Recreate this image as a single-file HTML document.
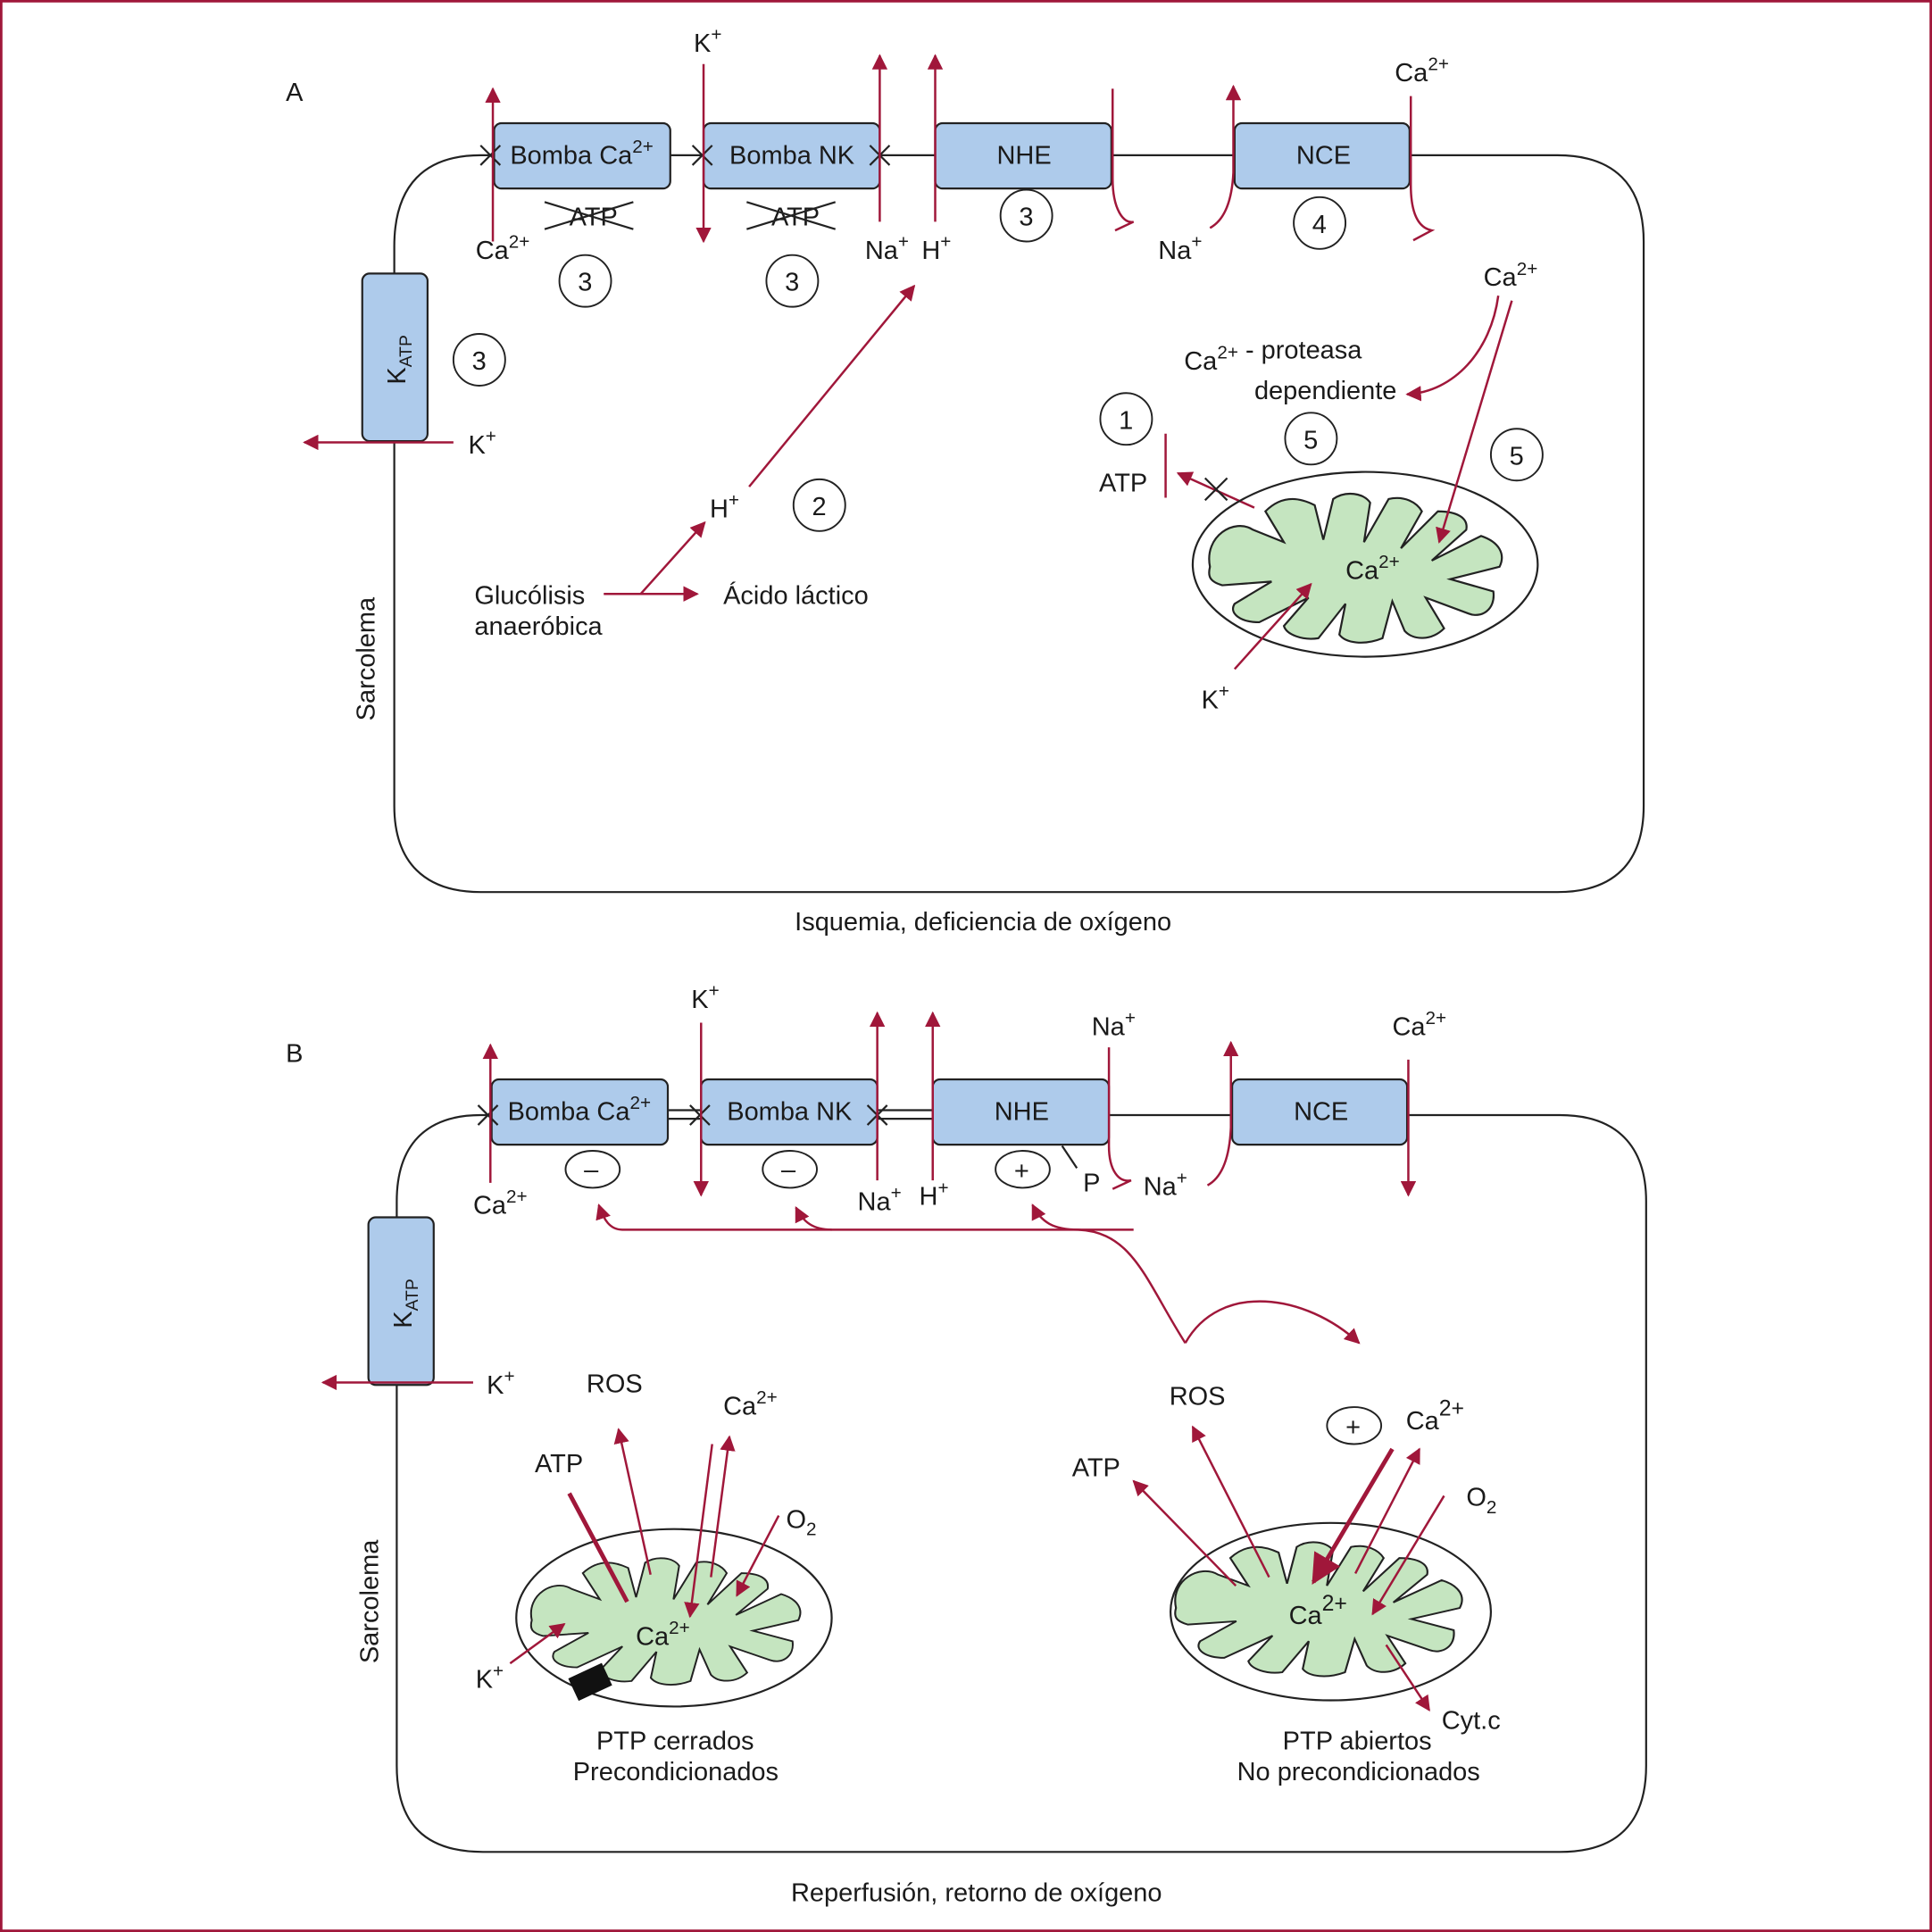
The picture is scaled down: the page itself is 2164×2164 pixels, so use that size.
<!DOCTYPE html>
<html><head><meta charset="utf-8"><style>
html,body{margin:0;padding:0;background:#fff}
svg{display:block}
text{font-family:"Liberation Sans Narrow","Liberation Sans",sans-serif;font-size:21px;fill:#1a1a1a}
.b{fill:#aecbeb;stroke:#222;stroke-width:1.6}
.c{fill:none;stroke:#222;stroke-width:1.6}
.r{fill:none;stroke:#a0173a;stroke-width:1.8}
.m{fill:#c5e5c0;stroke:#222;stroke-width:1.6}
.n{fill:#fff;stroke:#222;stroke-width:1.4}
</style></head><body>
<svg width="2164" height="2164" viewBox="0 0 1568 1568" xmlns="http://www.w3.org/2000/svg">
<defs>
<marker id="a" viewBox="0 0 10 10" refX="9" refY="5" markerWidth="7" markerHeight="7" orient="auto-start-reverse"><path d="M0,0 L10,5 L0,10 z" fill="#a0173a"/></marker>
<g id="mito">
<path class="m" d="M-120,0 C-125,-25 -100,-40 -85,-30 L-60,-20 L-75,-45 C-60,-60 -45,-55 -35,-50 L-28,-22 L-20,-55 C-10,-62 5,-60 10,-52 L5,-20 L25,-55 C38,-58 48,-52 52,-45 L35,-15 L65,-45 C80,-45 90,-40 88,-30 L60,-5 L100,-25 C115,-20 120,-10 115,0 L75,10 L110,20 C112,35 100,42 90,38 L55,25 L70,50 C60,60 45,60 38,52 L28,28 L20,58 C5,64 -10,62 -15,55 L-10,30 L-32,58 C-45,60 -58,55 -60,48 L-40,25 L-80,45 C-95,45 -105,38 -100,30 L-70,12 L-110,15 C-120,12 -122,8 -120,0 Z"/>
</g>
</defs>
<rect x="1" y="1" width="1566" height="1566" fill="none" stroke="#a0173a" stroke-width="2"/>

<!-- PANEL A -->
<text x="232" y="82">A</text>
<path class="c" d="M401,126 L390,126 C345,126 320,150 320,200 L320,654 C320,700 345,724 390,724 L1264,724 C1310,724 1334,700 1334,654 L1334,196 C1334,150 1310,126 1264,126 L1144,126 M544,126 L571,126 M714,126 L759,126 M902,126 L1002,126"/>
<rect class="b" x="401" y="100" width="143" height="53" rx="6"/><text x="414" y="133">Bomba Ca<tspan dy="-9" font-size="15">2+</tspan></text>
<rect class="b" x="571" y="100" width="143" height="53" rx="6"/><text x="592" y="133">Bomba NK</text>
<rect class="b" x="759" y="100" width="143" height="53" rx="6"/><text x="809" y="133">NHE</text>
<rect class="b" x="1002" y="100" width="142" height="53" rx="6"/><text x="1052" y="133">NCE</text>
<rect class="b" x="294" y="222" width="53" height="136" rx="6"/>
<text transform="translate(329,312) rotate(-90)">K<tspan font-size="14" dy="5">ATP</tspan></text>
<path class="c" d="M390,118 l16,16 M390,134 l16,-16 M562,118 l16,16 M562,134 l16,-16 M706,118 l16,16 M706,134 l16,-16"/>
<text x="462" y="183">ATP</text><path class="c" d="M442,164 l72,22 M442,186 l72,-22"/>
<text x="626" y="183">ATP</text><path class="c" d="M606,164 l72,22 M606,186 l72,-22"/>
<path class="r" marker-end="url(#a)" d="M400,196 L400,72"/>
<path class="r" marker-end="url(#a)" d="M571,52 L571,196"/>
<path class="r" marker-end="url(#a)" d="M714,180 L714,45"/>
<path class="r" marker-end="url(#a)" d="M759,180 L759,45"/>
<path class="r" d="M903,72 L903,145 C903,170 912,182 920,180 L905,187"/>
<path class="r" marker-end="url(#a)" d="M982,185 C995,178 1000,160 1001,140 L1001,70"/>
<path class="r" d="M1145,78 L1145,150 C1145,175 1152,185 1162,187 L1147,195"/>
<text x="386" y="210">Ca<tspan dy="-9" font-size="15">2+</tspan></text>
<text x="563" y="42">K<tspan dy="-9" font-size="15">+</tspan></text>
<text x="702" y="210">Na<tspan dy="-9" font-size="15">+</tspan></text>
<text x="748" y="210">H<tspan dy="-9" font-size="15">+</tspan></text>
<text x="940" y="210">Na<tspan dy="-9" font-size="15">+</tspan></text>
<text x="1132" y="66">Ca<tspan dy="-9" font-size="15">2+</tspan></text>
<g class="n"><circle cx="475" cy="228" r="21"/><circle cx="643" cy="228" r="21"/><circle cx="833" cy="175" r="21"/><circle cx="1071" cy="181" r="21"/><circle cx="389" cy="292" r="21"/><circle cx="665" cy="410" r="21"/><circle cx="914" cy="340" r="21"/><circle cx="1064" cy="356" r="21"/><circle cx="1231" cy="369" r="21"/></g>
<text x="469" y="236">3</text><text x="637" y="236">3</text><text x="827" y="183">3</text><text x="1065" y="189">4</text><text x="383" y="300">3</text><text x="659" y="418">2</text><text x="908" y="348">1</text><text x="1058" y="364">5</text><text x="1225" y="377">5</text>
<path class="r" marker-end="url(#a)" d="M368,359 L247,359"/><text x="380" y="368">K<tspan dy="-9" font-size="15">+</tspan></text>
<text transform="translate(304,585) rotate(-90)">Sarcolema</text>
<text x="385" y="490">Glucólisis</text><text x="385" y="515">anaeróbica</text>
<path class="r" marker-end="url(#a)" d="M490,482 L566,482"/><text x="587" y="490">Ácido láctico</text>
<path class="r" marker-end="url(#a)" d="M520,482 L572,424"/><text x="576" y="420">H<tspan dy="-9" font-size="15">+</tspan></text>
<path class="r" marker-end="url(#a)" d="M608,395 L742,232"/>
<text x="961" y="300">Ca<tspan dy="-9" font-size="15">2+</tspan> - proteasa</text><text x="1018" y="324">dependiente</text>
<text x="1204" y="232">Ca<tspan dy="-9" font-size="15">2+</tspan></text>
<path class="r" marker-end="url(#a)" d="M1216,240 C1210,285 1180,318 1142,320"/>
<text x="892" y="399">ATP</text>
<path class="r" d="M946,352 L946,404"/>
<path class="r" marker-end="url(#a)" d="M1018,412 L956,384"/><path class="c" d="M978,388 l18,18 M978,406 l18,-18"/>
<ellipse class="c" cx="1108" cy="458" rx="140" ry="75"/>
<use href="#mito" transform="translate(1102,460) scale(1.0)"/>
<text x="1092" y="470">Ca<tspan dy="-9" font-size="15">2+</tspan></text>
<path class="r" marker-end="url(#a)" d="M1227,244 L1168,440"/>
<path class="r" marker-end="url(#a)" d="M1002,543 L1064,474"/>
<text x="975" y="575">K<tspan dy="-9" font-size="15">+</tspan></text>
<text x="645" y="755">Isquemia, deficiencia de oxígeno</text>

<!-- PANEL B -->
<text x="232" y="862">B</text>
<path class="c" d="M399,905 L390,905 C345,905 322,930 322,975 L322,1433 C322,1480 345,1503 392,1503 L1266,1503 C1312,1503 1336,1480 1336,1433 L1336,975 C1336,930 1312,905 1266,905 L1142,905 M900,905 L1000,905"/>
<path class="c" d="M542,901 L569,901 M542,908 L569,908 M712,901 L757,901 M712,908 L757,908"/>
<rect class="b" x="399" y="876" width="143" height="53" rx="6"/><text x="412" y="909">Bomba Ca<tspan dy="-9" font-size="15">2+</tspan></text>
<rect class="b" x="569" y="876" width="143" height="53" rx="6"/><text x="590" y="909">Bomba NK</text>
<rect class="b" x="757" y="876" width="143" height="53" rx="6"/><text x="807" y="909">NHE</text>
<rect class="b" x="1000" y="876" width="142" height="53" rx="6"/><text x="1050" y="909">NCE</text>
<rect class="b" x="299" y="988" width="53" height="136" rx="6"/>
<text transform="translate(334,1078) rotate(-90)">K<tspan font-size="14" dy="5">ATP</tspan></text>
<path class="c" d="M388,897 l16,16 M388,913 l16,-16 M560,897 l16,16 M560,913 l16,-16 M704,897 l16,16 M704,913 l16,-16"/>
<path class="r" marker-end="url(#a)" d="M398,960 L398,848"/>
<path class="r" marker-end="url(#a)" d="M569,830 L569,970"/>
<path class="r" marker-end="url(#a)" d="M712,958 L712,822"/>
<path class="r" marker-end="url(#a)" d="M757,958 L757,822"/>
<path class="r" d="M900,850 L900,930 C900,950 908,960 918,958 L903,965"/>
<path class="r" marker-end="url(#a)" d="M980,962 C993,955 998,937 999,915 L999,846"/>
<path class="r" marker-end="url(#a)" d="M1143,860 L1143,970"/>
<text x="384" y="985">Ca<tspan dy="-9" font-size="15">2+</tspan></text>
<text x="561" y="818">K<tspan dy="-9" font-size="15">+</tspan></text>
<text x="696" y="982">Na<tspan dy="-9" font-size="15">+</tspan></text>
<text x="746" y="978">H<tspan dy="-9" font-size="15">+</tspan></text>
<text x="886" y="840">Na<tspan dy="-9" font-size="15">+</tspan></text>
<text x="928" y="970">Na<tspan dy="-9" font-size="15">+</tspan></text>
<text x="1130" y="840">Ca<tspan dy="-9" font-size="15">2+</tspan></text>
<path class="c" d="M862,930 L874,948"/><text x="879" y="967">P</text>
<g class="n"><ellipse cx="481" cy="949" rx="22" ry="15"/><ellipse cx="641" cy="949" rx="22" ry="15"/><ellipse cx="830" cy="949" rx="22" ry="15"/><ellipse cx="1099" cy="1157" rx="22" ry="15"/></g>
<text x="474" y="956">–</text><text x="634" y="956">–</text><text x="823" y="957">+</text><text x="1092" y="1165">+</text>
<path class="r" marker-end="url(#a)" d="M920,998 L505,998 C495,998 490,990 486,978"/>
<path class="r" marker-end="url(#a)" d="M675,998 C660,998 652,992 646,980"/>
<path class="r" marker-end="url(#a)" d="M875,998 C855,998 845,992 838,978"/>
<path class="r" d="M875,998 C920,1000 930,1040 962,1090"/>
<path class="r" marker-end="url(#a)" d="M962,1090 C990,1040 1060,1050 1103,1090"/>
<path class="r" marker-end="url(#a)" d="M384,1122 L262,1122"/><text x="395" y="1131">K<tspan dy="-9" font-size="15">+</tspan></text>
<text transform="translate(307,1350) rotate(-90)">Sarcolema</text>
<!-- left mito -->
<ellipse class="c" cx="547" cy="1313" rx="128" ry="72"/>
<use href="#mito" transform="translate(542,1315) scale(0.92,0.85)"/>
<rect x="464" y="1355" width="30" height="20" fill="#111" transform="rotate(-25 479 1365)"/>
<text x="516" y="1335">Ca<tspan dy="-9" font-size="15">2+</tspan></text>
<text x="434" y="1195" font-size="26">ATP</text>
<path d="M462,1212 L509,1300" stroke="#a0173a" stroke-width="3.5" fill="none"/>
<text x="476" y="1130">ROS</text>
<path class="r" marker-end="url(#a)" d="M528,1278 L502,1160"/>
<text x="587" y="1148">Ca<tspan dy="-9" font-size="15">2+</tspan></text>
<path class="r" marker-end="url(#a)" d="M578,1172 L560,1312"/>
<path class="r" marker-end="url(#a)" d="M577,1280 L592,1166"/>
<text x="638" y="1240">O<tspan dy="6" font-size="15">2</tspan></text>
<path class="r" marker-end="url(#a)" d="M632,1230 L598,1295"/>
<path class="r" marker-end="url(#a)" d="M414,1350 L458,1318"/><text x="386" y="1370">K<tspan dy="-9" font-size="15">+</tspan></text>
<text x="484" y="1420">PTP cerrados</text><text x="465" y="1445">Precondicionados</text>
<!-- right mito -->
<ellipse class="c" cx="1080" cy="1308" rx="130" ry="72"/>
<use href="#mito" transform="translate(1072,1305) scale(0.98,0.9)"/>
<text x="1046" y="1318" font-size="26">Ca<tspan dy="-11" font-size="18">2+</tspan></text>
<text x="949" y="1140" font-size="26">ROS</text>
<path class="r" marker-end="url(#a)" d="M1030,1280 L968,1158"/>
<text x="870" y="1198">ATP</text>
<path class="r" marker-end="url(#a)" d="M1003,1287 L920,1202"/>
<text x="1141" y="1160" font-size="26">Ca<tspan dy="-11" font-size="18">2+</tspan></text>
<path d="M1130,1176 L1066,1284" stroke="#a0173a" stroke-width="3.5" fill="none" marker-end="url(#a)"/>
<path class="r" marker-end="url(#a)" d="M1100,1277 L1152,1176"/>
<text x="1190" y="1222">O<tspan dy="6" font-size="15">2</tspan></text>
<path class="r" marker-end="url(#a)" d="M1172,1214 L1114,1310"/>
<path class="r" marker-end="url(#a)" d="M1125,1335 L1160,1388"/>
<text x="1170" y="1403">Cyt.c</text>
<text x="1041" y="1420">PTP abiertos</text><text x="1004" y="1445">No precondicionados</text>
<text x="642" y="1543">Reperfusión, retorno de oxígeno</text>
</svg>
</body></html>
